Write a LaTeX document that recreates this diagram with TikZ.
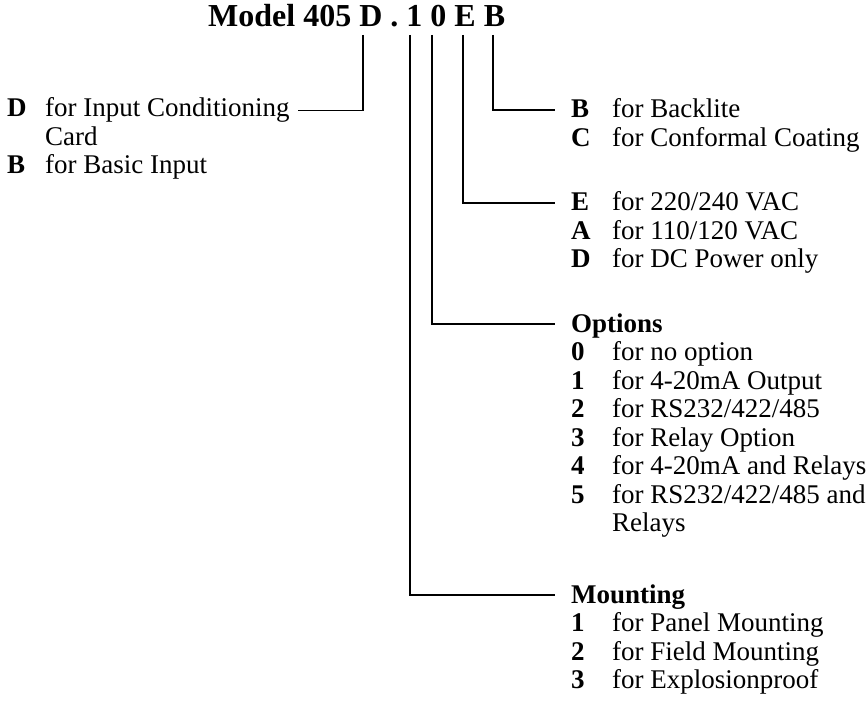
\documentclass[tikz,border=0pt]{standalone}
\usepackage{fontspec}
\setmainfont{Liberation Serif}
\usetikzlibrary{positioning}

\tikzset{
    key/.style={anchor=base west, inner sep=0pt, text height=16pt, text depth=0pt,
        font=\bfseries\fontsize{27}{28}\selectfont},
    desc/.style={anchor=base west, inner sep=0pt, font=\fontsize{27}{28}\selectfont},
    link/.style={line width=1.1pt},
}

\begin{document}
\begin{tikzpicture}[x=1pt, y=-1pt]
    \useasboundingbox (0,0) rectangle (866,708);
    % Model code
    \node[anchor=base west, inner sep=0pt, font=\bfseries\fontsize{32}{36}\selectfont]
        (title) at (208,27) {Model 405 D . 1 0 E B};
    \foreach \name/\x in {D/363,M/410,O/432,P/463,L/493} {
        \coordinate (top-\name) at (\x,35);
    }
    % Input card
    \node[key] (keyD-1) at (7,117) {D};
    \node[desc] (txtD-1) at (45,117) {for Input Conditioning};
    \node[desc] (txtD-2) at (45,146) {Card};
    \node[key] (keyD-2) at (7,174) {B};
    \node[desc] (txtD-3) at (45,174) {for Basic Input};
    % Backlite / coating
    \foreach \k/\t/\i in {B/Backlite/1, C/Conformal Coating/2} {
        \node[key] (keyL-\i) at (571,{118+28.5*(\i-1)}) {\k};
        \node[desc] (txtL-\i) at (612,{118+28.5*(\i-1)}) {for \t};
    }
    % Power
    \foreach \k/\t/\i in {E/{220/240 VAC}/1, A/{110/120 VAC}/2, D/DC Power only/3} {
        \node[key] (keyP-\i) at (571,{211+28.5*(\i-1)}) {\k};
        \node[desc] (txtP-\i) at (612,{211+28.5*(\i-1)}) {for \t};
    }
    % Options
    \node[key] (hdrO) at (571,332) {Options};
    \foreach \k/\t in {0/no option, 1/4-20mA Output, 2/{RS232/422/485}, 3/Relay Option,
                       4/4-20mA and Relays, 5/{RS232/422/485 and}} {
        \node[key] (keyO-\k) at (571,{360.5+28.5*\k}) {\k};
        \node[desc] (txtO-\k) at (612,{360.5+28.5*\k}) {for \t};
    }
    \node[desc] (txtO-6) at (612,531.5) {Relays};
    % Mounting
    \node[key] (hdrM) at (571,603) {Mounting};
    \foreach \k/\t in {1/Panel Mounting, 2/Field Mounting, 3/Explosionproof} {
        \node[key] (keyM-\k) at (571,{603+28.5*\k}) {\k};
        \node[desc] (txtM-\k) at (612,{603+28.5*\k}) {for \t};
    }
    % Leaders
    \draw[link] (top-D) |- ([xshift=8pt]txtD-1.east);
    \draw[link] (top-L) |- ([xshift=-16pt]keyL-1.west);
    \draw[link] (top-P) |- ([xshift=-16pt]keyP-1.west);
    \draw[link] (top-O) |- ([xshift=-16pt]hdrO.west);
    \draw[link] (top-M) |- ([xshift=-16pt]hdrM.west);
\end{tikzpicture}
\end{document}
